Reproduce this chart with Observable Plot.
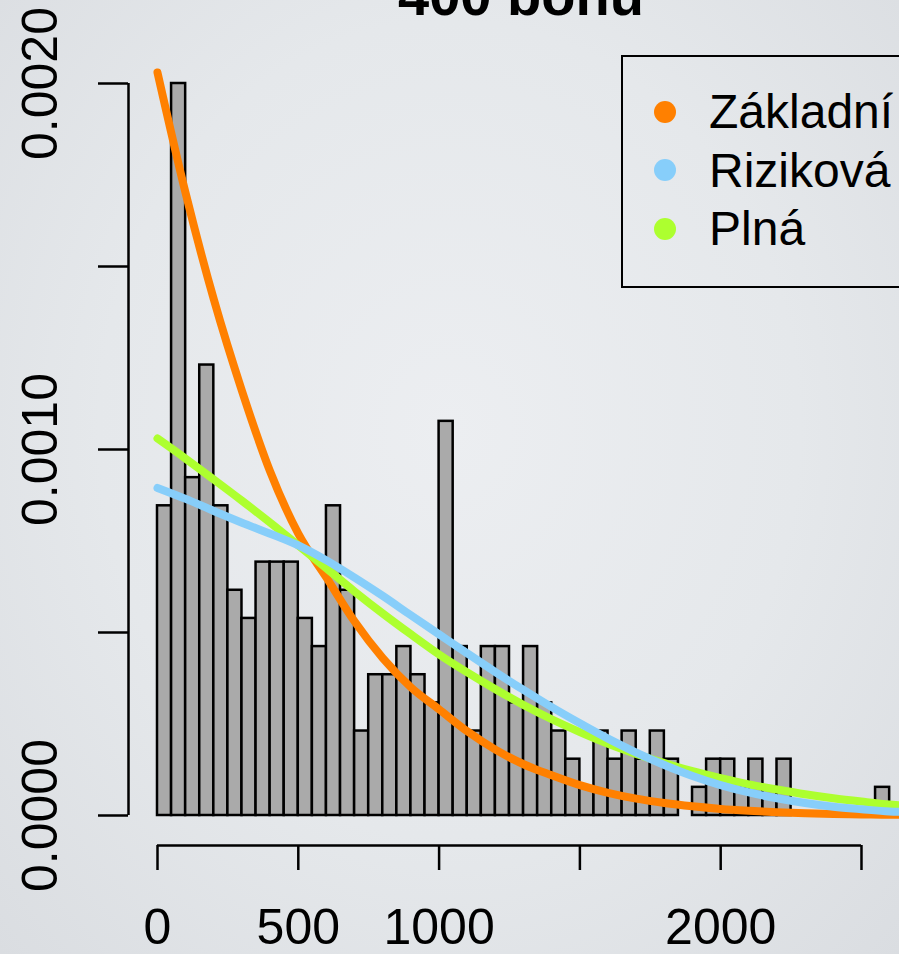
<!DOCTYPE html>
<html>
<head>
<meta charset="utf-8">
<script src="https://cdn.jsdelivr.net/npm/d3@7"></script>
<script src="https://cdn.jsdelivr.net/npm/@observablehq/plot@0.6"></script>
<style>
  html, body { margin: 0; padding: 0; }
  body {
    width: 899px; height: 954px; overflow: hidden; position: relative;
    background: radial-gradient(ellipse at 50% 45%, #eceef1 0%, #e5e8eb 55%, #dadde1 100%);
    font-family: "Liberation Sans", Arial, Helvetica, sans-serif;
  }
  #chart { position: absolute; left: 0; top: 0; }
  #title {
    position: absolute; left: 0; top: -32px; width: 1042px; text-align: center;
    font-size: 56px; line-height: 56px; font-weight: bold; color: #000; white-space: nowrap;
  }
  #legend {
    position: absolute; left: 621px; top: 55px; width: 320px; height: 233px;
    border: 2.5px solid #000; box-sizing: border-box;
  }
  .row { position: absolute; height: 47px; display: flex; align-items: center; white-space: nowrap; }
  .dot { width: 22px; height: 22px; border-radius: 50%; }
  .lab { position: absolute; left: 55px; font-size: 48px; line-height: 47px; color: #000; }
</style>
</head>
<body>
<div id="chart"></div>
<div id="title"></div>
<div id="legend"></div>
<script>
// ---- data ----
const title = "400 bonů";
const binWidth = 50;
// histogram counts per 50-unit bin, starting at 0
const counts = [11,26,12,16,11,8,7,9,9,9,
                7,6,11,8,3,5,5,6,5,4,
                14,6,3,6,6,4,6,4,3,2,
                1,3,2,3,2,3,2,0,1,2,
                2,1,2,1,2,0,0,0,0,0,
                0,1];
// fitted density curves, sampled at these x values
const curveX = [0,100,200,300,400,500,600,700,800,900,1000,1100,1200,1300,1400,
                1500,1600,1700,1800,1900,2000,2100,2200,2300,2400,2500,2600,2635];
const zakladni = [0.00203,0.00170,0.00141,0.00116,0.00094,0.00077,0.00065,0.00053,0.00043,0.00035,
                  0.00029,0.00023,0.00018,0.00014,0.00011,0.000083,0.000062,0.000046,0.000034,0.000025,
                  0.000018,0.000013,0.000009,0.000006,0.000004,0.000003,0.000002,0.000002];
const rizikova = [0.000895,0.000865,0.000832,0.000800,0.000770,0.000738,0.000697,0.000650,0.000600,0.000547,
                  0.000495,0.000443,0.000392,0.000343,0.000296,0.000252,0.000210,0.000172,0.000138,0.000108,
                  0.000083,0.000063,0.000047,0.000034,0.000024,0.000017,0.000011,0.000010];
const plna     = [0.00103,0.000975,0.000918,0.000860,0.000800,0.000738,0.000675,0.000612,0.000552,0.000495,
                  0.000440,0.000391,0.000345,0.000302,0.000263,0.000228,0.000196,0.000168,0.000143,0.000121,
                  0.000102,0.000085,0.000071,0.000058,0.000047,0.000038,0.000030,0.000028];
const seriesNames = ["Základní", "Riziková", "Plná"];
const seriesColors = ["#ff8000", "#87cefa", "#adff2f"];
const xTicks = [0, 500, 1000, 1500, 2000, 2500];
const xTickLabels = [0, 500, 1000, 2000];
const yTicks = [0, 0.0005, 0.001, 0.0015, 0.002];
const yTickLabels = [0, 0.001, 0.002];

// ---- build ----
const N = d3.sum(counts);
const bins = counts.map((c, i) => ({x1: i * binWidth, x2: (i + 1) * binWidth, density: c / (N * binWidth)}));
const seriesValues = [zakladni, rizikova, plna];
const drawOrder = [0, 2, 1];
const lines = drawOrder.map(s => Plot.line(
  curveX.map((x, i) => ({x, y: seriesValues[s][i]})),
  {x: "x", y: "y", stroke: seriesColors[s], strokeWidth: 8, strokeLinecap: "round", curve: "monotone-x"}
));

const chart = Plot.plot({
  width: 899, height: 954,
  marginLeft: 157, marginRight: 0, marginTop: 83, marginBottom: 139,
  x: {domain: [0, 2635], label: null},
  y: {domain: [0, 0.002], label: null},
  style: {background: "transparent", fontFamily: "'Liberation Sans', Arial, Helvetica, sans-serif", overflow: "visible", color: "#000"},
  marks: [
    Plot.rectY(bins, {x1: "x1", x2: "x2", y: "density", fill: "#aaaaaa", stroke: "#000", strokeWidth: 2.5, inset: 0}),
    ...lines,
    Plot.ruleY([0], {x1: xTicks[0], x2: xTicks[xTicks.length - 1], dy: 30, stroke: "#000", strokeWidth: 2.5}),
    Plot.axisX({ticks: xTicks, tickSize: 25, dy: 30, tickPadding: 38, fontSize: 50, label: null,
      tickFormat: d => xTickLabels.includes(d) ? String(d) : "", strokeWidth: 2.5}),
    Plot.ruleX([0], {y1: yTicks[0], y2: yTicks[yTicks.length - 1], dx: -29, stroke: "#000", strokeWidth: 2.5}),
    Plot.axisY({ticks: yTicks, tickSize: 30, dx: -29, label: null, tickFormat: () => "", strokeWidth: 2.5}),
    Plot.text(yTickLabels, {y: d => d, text: d => d.toFixed(4), frameAnchor: "left", dx: -117,
      rotate: -90, textAnchor: "middle", lineAnchor: "middle", fontSize: 50, fill: "#000"})
  ]
});
document.getElementById("chart").appendChild(chart);

document.getElementById("title").textContent = title;

const legend = document.getElementById("legend");
seriesNames.forEach((name, i) => {
  const row = document.createElement("div");
  row.className = "row";
  row.style.left = "31px";
  row.style.top = (31 + 58.5 * i) + "px";
  const dot = document.createElement("div");
  dot.className = "dot";
  dot.style.background = seriesColors[i];
  const lab = document.createElement("div");
  lab.className = "lab";
  lab.textContent = name;
  row.appendChild(dot);
  row.appendChild(lab);
  legend.appendChild(row);
});
</script>
</body>
</html>
